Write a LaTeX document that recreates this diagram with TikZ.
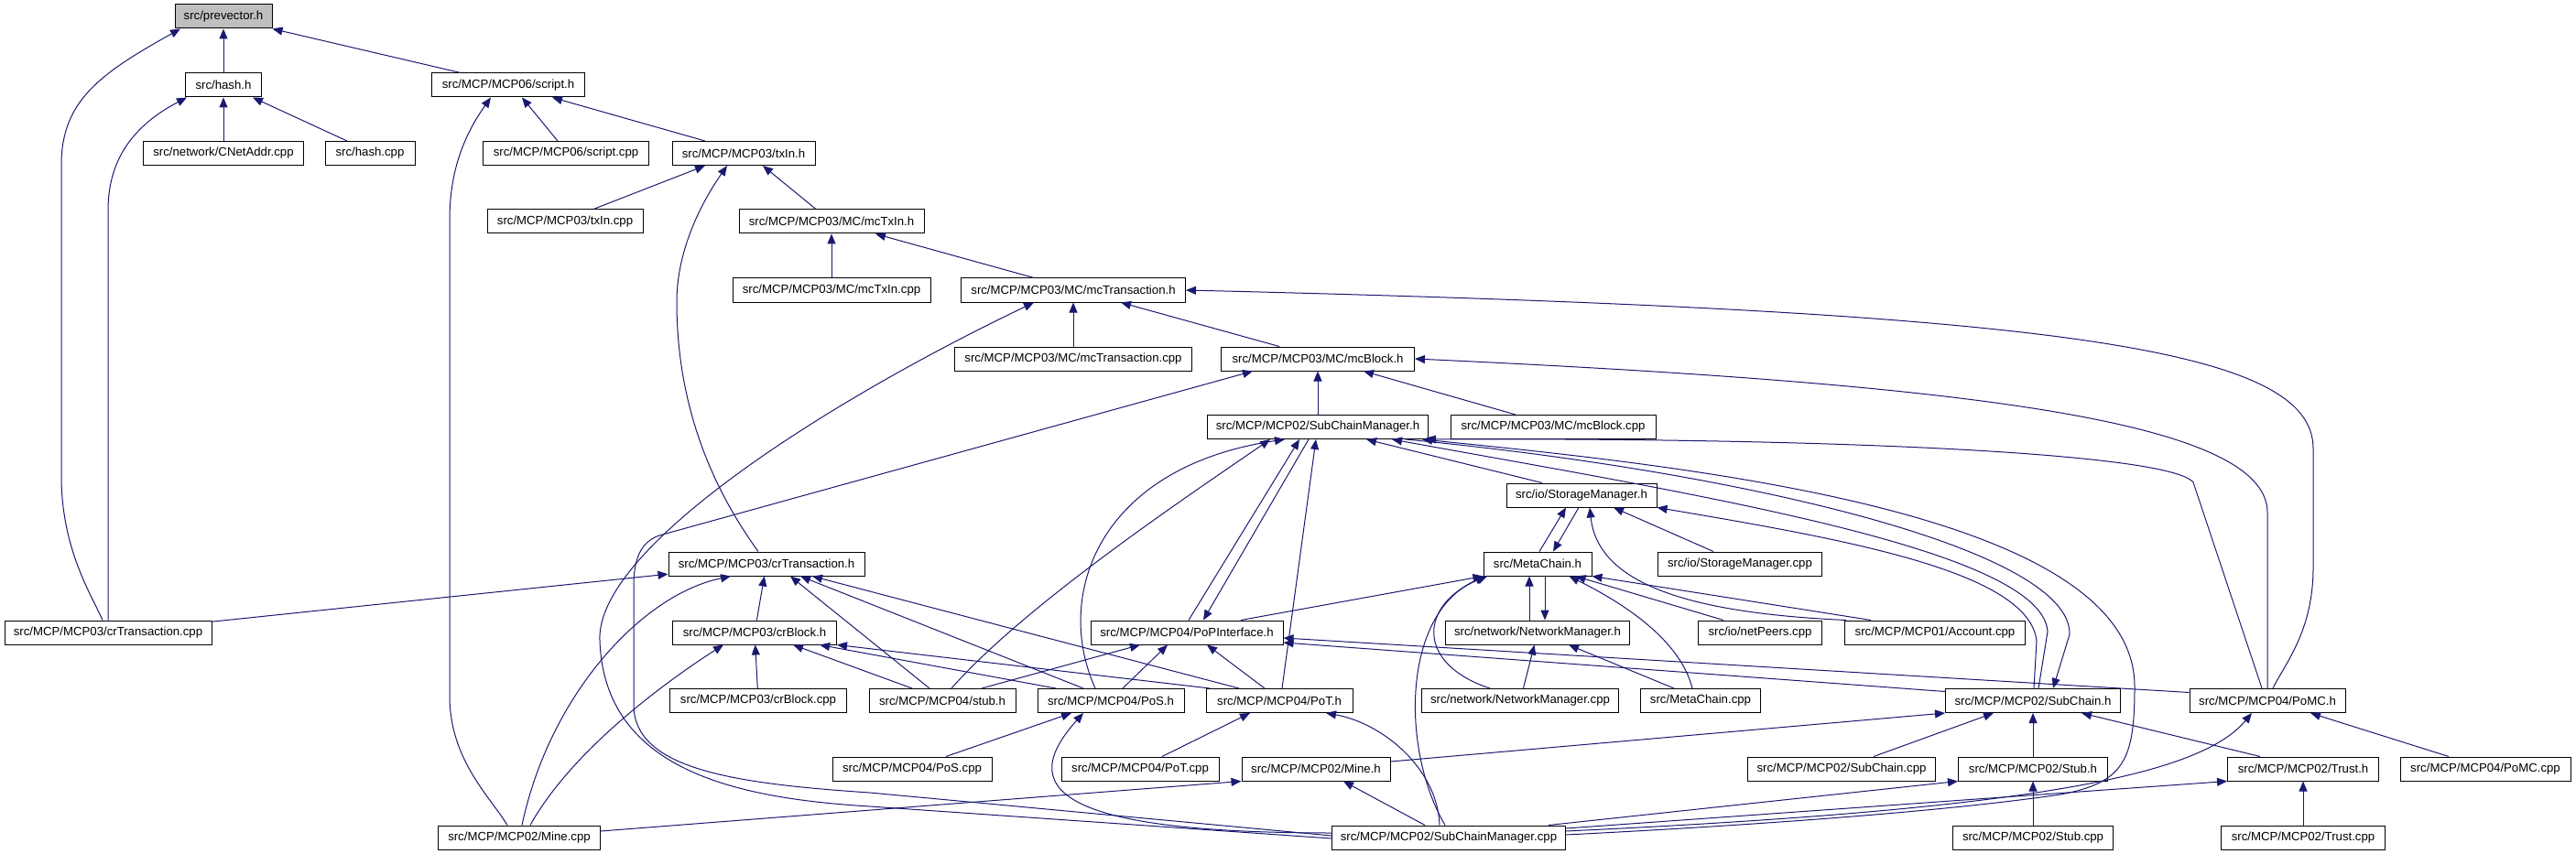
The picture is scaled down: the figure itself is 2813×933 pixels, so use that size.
\documentclass[tikz,border=0pt]{standalone}
\usepackage{fontspec}
\setmainfont{Liberation Sans}
\usepackage{xcolor}
\usepackage{tikz}
\usetikzlibrary{positioning}
\usetikzlibrary{arrows.meta}
\definecolor{edgeblue}{HTML}{191970}
\definecolor{rootgray}{HTML}{BFBFBF}

\begin{document}
\begin{tikzpicture}[x=1pt, y=-1pt,
Fnode/.style={rectangle, draw=black, fill=white, line width=1pt, minimum height=26pt, inner xsep=4pt, inner ysep=0pt, font=\fontsize{13.2}{15}\selectfont},
F0node/.style={Fnode, fill=rootgray},
dep/.style={draw=edgeblue, line width=1pt, {Triangle[length=11pt, width=9pt]}-}
]
\useasboundingbox (0,0) rectangle (2813,933);
%Nodes
\node[F0node, minimum width=106] (PV) at (244,18) {src/prevector.h};
\node[Fnode, minimum width=83] (HH) at (244,93) {src/hash.h};
\node[Fnode, minimum width=167] (SCH) at (555,93) {src/MCP/MCP06/script.h};
\node[Fnode, minimum width=175] (CNA) at (244,167.5) {src/network/CNetAddr.cpp};
\node[Fnode, minimum width=98] (HCPP) at (404,167.5) {src/hash.cpp};
\node[Fnode, minimum width=181] (SCC) at (618,167.5) {src/MCP/MCP06/script.cpp};
\node[Fnode, minimum width=156] (TXH) at (812,167.5) {src/MCP/MCP03/txIn.h};
\node[Fnode, minimum width=170] (TXC) at (617,242) {src/MCP/MCP03/txIn.cpp};
\node[Fnode, minimum width=202] (MTXH) at (908,242) {src/MCP/MCP03/MC/mcTxIn.h};
\node[Fnode, minimum width=216] (MTXC) at (908,317) {src/MCP/MCP03/MC/mcTxIn.cpp};
\node[Fnode, minimum width=245] (MTRH) at (1172,317) {src/MCP/MCP03/MC/mcTransaction.h};
\node[Fnode, minimum width=259] (MTRC) at (1172,392) {src/MCP/MCP03/MC/mcTransaction.cpp};
\node[Fnode, minimum width=211] (MBH) at (1439,392) {src/MCP/MCP03/MC/mcBlock.h};
\node[Fnode, minimum width=241] (SCMH) at (1439,466.5) {src/MCP/MCP02/SubChainManager.h};
\node[Fnode, minimum width=224] (MBC) at (1696,466.5) {src/MCP/MCP03/MC/mcBlock.cpp};
\node[Fnode, minimum width=164] (STMH) at (1727,541) {src/io/StorageManager.h};
\node[Fnode, minimum width=214] (CRTH) at (837,616) {src/MCP/MCP03/crTransaction.h};
\node[Fnode, minimum width=118] (MCH) at (1679,616) {src/MetaChain.h};
\node[Fnode, minimum width=179] (STMC) at (1900,616) {src/io/StorageManager.cpp};
\node[Fnode, minimum width=226] (CRTC) at (118,691) {src/MCP/MCP03/crTransaction.cpp};
\node[Fnode, minimum width=179] (CRBH) at (824,691) {src/MCP/MCP03/crBlock.h};
\node[Fnode, minimum width=210] (POPI) at (1296,691) {src/MCP/MCP04/PoPInterface.h};
\node[Fnode, minimum width=201] (NMH) at (1679,691) {src/network/NetworkManager.h};
\node[Fnode, minimum width=135] (NPC) at (1922,691) {src/io/netPeers.cpp};
\node[Fnode, minimum width=197] (ACC) at (2113,691) {src/MCP/MCP01/Account.cpp};
\node[Fnode, minimum width=193] (CRBC) at (828,765.5) {src/MCP/MCP03/crBlock.cpp};
\node[Fnode, minimum width=160] (STUBH) at (1029,765.5) {src/MCP/MCP04/stub.h};
\node[Fnode, minimum width=160] (POSH) at (1213,765.5) {src/MCP/MCP04/PoS.h};
\node[Fnode, minimum width=160] (POTH) at (1397,765.5) {src/MCP/MCP04/PoT.h};
\node[Fnode, minimum width=215] (NMC) at (1660,765.5) {src/network/NetworkManager.cpp};
\node[Fnode, minimum width=131] (MCC) at (1857,765.5) {src/MetaChain.cpp};
\node[Fnode, minimum width=191] (SCHN) at (2220,765.5) {src/MCP/MCP02/SubChain.h};
\node[Fnode, minimum width=170] (POMCH) at (2476,765.5) {src/MCP/MCP04/PoMC.h};
\node[Fnode, minimum width=174] (POSC) at (996,840) {src/MCP/MCP04/PoS.cpp};
\node[Fnode, minimum width=172] (POTC) at (1245,840) {src/MCP/MCP04/PoT.cpp};
\node[Fnode, minimum width=162] (MINEH) at (1437,840) {src/MCP/MCP02/Mine.h};
\node[Fnode, minimum width=205] (SCHC) at (2011,840) {src/MCP/MCP02/SubChain.cpp};
\node[Fnode, minimum width=163] (STBH) at (2220,840) {src/MCP/MCP02/Stub.h};
\node[Fnode, minimum width=165] (TRH) at (2515,840) {src/MCP/MCP02/Trust.h};
\node[Fnode, minimum width=186] (POMCC) at (2714,840) {src/MCP/MCP04/PoMC.cpp};
\node[Fnode, minimum width=177] (MINEC) at (567,915) {src/MCP/MCP02/Mine.cpp};
\node[Fnode, minimum width=255] (SCMC) at (1582,915) {src/MCP/MCP02/SubChainManager.cpp};
\node[Fnode, minimum width=175] (STBC) at (2220,915) {src/MCP/MCP02/Stub.cpp};
\node[Fnode, minimum width=179] (TRC) at (2515,915) {src/MCP/MCP02/Trust.cpp};

%Lines
\draw[dep] (PV) -- (HH);
\draw[dep] (PV.south east) -- ([xshift=-52pt]SCH.north);
\draw[dep] ([xshift=-47pt]PV.south) .. controls (110,80) and (67,110) .. (67,180) -- (67,520) .. controls (67,600) and (100,650) .. ([xshift=-6pt]CRTC.north);
\draw[dep] (HH) -- (CNA);
\draw[dep] ([xshift=32pt]HH.south) -- ([xshift=-25pt]HCPP.north);
\draw[dep] ([xshift=-40pt]HH.south) .. controls (140,140) and (118,180) .. (118,230) -- (CRTC.north);
\draw[dep] ([xshift=15pt]SCH.south) -- ([xshift=-9pt]SCC.north);
\draw[dep] ([xshift=48pt]SCH.south) -- ([xshift=-42pt]TXH.north);
\draw[dep] ([xshift=-19pt]SCH.south) .. controls (505,150) and (491,190) .. (491,240) -- (491,760) .. controls (491,830) and (535,870) .. ([xshift=-13pt]MINEC.north);
\draw[dep] ([xshift=-42pt]TXH.south) -- ([xshift=31pt]TXC.north);
\draw[dep] ([xshift=21pt]TXH.south) -- ([xshift=-17pt]MTXH.north);
\draw[dep] ([xshift=-18pt]TXH.south) .. controls (760,230) and (739,280) .. (739,330) .. controls (739,460) and (790,550) .. ([xshift=-9pt]CRTH.north);
\draw[dep] (MTXH) -- (MTXC);
\draw[dep] ([xshift=48pt]MTXH.south) -- ([xshift=-43pt]MTRH.north);
\draw[dep] (MTRH) -- (MTRC);
\draw[dep] ([xshift=52pt]MTRH.south) -- ([xshift=-42pt]MBH.north);
\draw[dep] ([xshift=-43pt]MTRH.south) .. controls (900,440) and (650,600) .. (655,700) .. controls (660,840) and (800,872) .. (950,881) -- ([yshift=-1pt]SCMC.west);
\draw[dep] (MTRH.east) .. controls (2250,340) and (2526,380) .. (2526,490) -- (2526,620) .. controls (2526,690) and (2495,725) .. ([xshift=6pt]POMCH.north);
\draw[dep] (MBH) -- (SCMH);
\draw[dep] ([xshift=50pt]MBH.south) -- ([xshift=-41pt]MBC.north);
\draw[dep] ([xshift=-71pt]MBH.south) -- (720,585) .. controls (700,592) and (692,610) .. (692,640) -- (692,770) .. controls (692,840) and (800,856) .. (950,866) -- ([yshift=2pt]SCMC.west);
\draw[dep] (MBH.east) .. controls (2150,420) and (2476,460) .. (2476,560) -- (POMCH.north);
\draw[dep] ([xshift=53pt]SCMH.south) -- ([xshift=-43pt]STMH.north);
\draw[dep] ([xshift=-52pt]SCMH.south) .. controls (1300,540) and (1120,660) .. ([xshift=10pt]STUBH.north);
\draw[dep] ([xshift=-36pt]SCMH.south) .. controls (1200,510) and (1150,650) .. ([xshift=-17pt]POSH.north);
\draw[dep] ([xshift=-20pt]SCMH.south) -- ([xshift=2pt]POPI.north);
\draw[dep] ([xshift=18pt]POPI.north) -- ([xshift=-10pt]SCMH.south);
\draw[dep] ([xshift=-2pt]SCMH.south) -- ([xshift=3pt]POTH.north);
\draw[dep] ([xshift=-3pt]SCMH.south east) .. controls (2000,478) and (2370,495) .. (2395,527) -- ([xshift=-6pt]POMCH.north);
\draw[dep] ([xshift=-7pt]SCMH.south east) .. controls (1850,510) and (2331,560) .. (2331,750) .. controls (2331,830) and (2320,855) .. (2250,868) .. controls (2100,890) and (1850,905) .. ([yshift=3pt]SCMC.east);
\draw[dep] ([xshift=-40pt]SCMH.south east) .. controls (1850,540) and (2230,600) .. (2236,690) -- ([xshift=6pt]SCHN.north);
\draw[dep] ([xshift=22pt]SCHN.north) -- (2260,693) .. controls (2262,600) and (1900,515) .. ([xshift=-25pt]SCMH.south east);
\draw[dep] (STMH.south east) .. controls (2020,590) and (2215,625) .. (2224,700) -- ([xshift=1pt]SCHN.north);
\draw[dep] ([xshift=-17pt]STMH.south) -- ([xshift=2pt]MCH.north);
\draw[dep] ([xshift=17pt]MCH.north) -- ([xshift=-3pt]STMH.south);
\draw[dep] ([xshift=35pt]STMH.south) -- ([xshift=-29pt]STMC.north);
\draw[dep] ([xshift=9pt]STMH.south) .. controls (1745,640) and (1850,670) .. ([xshift=-97pt]ACC.north);
\draw[dep] (MCH.south east) -- ([xshift=-70pt]ACC.north);
\draw[dep] ([xshift=-18pt]MCH.south east) -- ([xshift=-40pt]NPC.north);
\draw[dep] ([xshift=-25pt]MCH.south east) .. controls (1775,660) and (1835,700) .. ([xshift=-9pt]MCC.north);
\draw[dep] ([xshift=-9pt]MCH.south) -- ([xshift=-9pt]NMH.north);
\draw[dep] ([xshift=8pt]NMH.north) -- ([xshift=8pt]MCH.south);
\draw[dep] ([xshift=-55pt]MCH.south) .. controls (1550,660) and (1545,725) .. ([xshift=-33pt]NMC.north);
\draw[dep] ([xshift=-57pt]MCH.south) .. controls (1530,670) and (1530,820) .. ([xshift=-4pt]SCMC.north);
\draw[dep] (MCH.south west) -- ([xshift=59pt]POPI.north);
\draw[dep] (NMH) -- (NMC);
\draw[dep] ([xshift=34pt]NMH.south) -- ([xshift=-29pt]MCC.north);
\draw[dep] ([xshift=-51pt]POPI.south) -- ([xshift=43pt]STUBH.north);
\draw[dep] ([xshift=-21pt]POPI.south) -- ([xshift=13pt]POSH.north);
\draw[dep] ([xshift=22pt]POPI.south) -- ([xshift=-16pt]POTH.north);
\draw[dep] ([yshift=-11pt]POPI.east) -- ([yshift=10pt]SCHN.west);
\draw[dep] ([yshift=-6pt]POPI.east) -- ([yshift=9pt]POMCH.west);
\draw[dep] (CRTH) -- (CRTC);
\draw[dep] (CRTH) -- (CRBH);
\draw[dep] ([xshift=26pt]CRTH.south) -- ([xshift=-14pt]STUBH.north);
\draw[dep] ([xshift=37pt]CRTH.south) -- ([xshift=-30pt]POSH.north);
\draw[dep] ([xshift=50pt]CRTH.south) -- ([xshift=-44pt]POTH.north);
\draw[dep] ([xshift=-39pt]CRTH.south) .. controls (700,650) and (600,760) .. ([xshift=3pt]MINEC.north);
\draw[dep] (CRBH) -- (CRBC);
\draw[dep] ([xshift=42pt]CRBH.south) -- ([xshift=-33pt]STUBH.north);
\draw[dep] ([xshift=71pt]CRBH.south) -- ([xshift=-60pt]POSH.north);
\draw[dep] (CRBH.south east) -- ([xshift=-76pt]POTH.north);
\draw[dep] ([xshift=-34pt]CRBH.south) .. controls (750,730) and (630,810) .. ([xshift=12pt]MINEC.north);
\draw[dep] ([xshift=-43pt]POSH.south) -- ([xshift=37pt]POSC.north);
\draw[dep] ([xshift=-30pt]POSH.south) .. controls (1110,860) and (1150,910) .. ([yshift=5pt]SCMC.west);
\draw[dep] ([xshift=-32pt]POTH.south) -- ([xshift=24pt]POTC.north);
\draw[dep] ([xshift=51pt]POTH.south) .. controls (1510,790) and (1570,840) .. ([xshift=-10pt]SCMC.north);
\draw[dep] (MINEH.south west) -- ([yshift=7pt]MINEC.east);
\draw[dep] ([xshift=30pt]MINEH.south) -- ([xshift=-26pt]SCMC.north);
\draw[dep] (SCHN.south west) -- ([yshift=8pt]MINEH.east);
\draw[dep] ([xshift=-43pt]SCHN.south) -- ([xshift=35pt]SCHC.north);
\draw[dep] (SCHN) -- (STBH);
\draw[dep] ([xshift=53pt]SCHN.south) -- ([xshift=-47pt]TRH.north);
\draw[dep] (STBH) -- (STBC);
\draw[dep] (TRH) -- (TRC);
\draw[dep] ([xshift=47pt]POMCH.south) -- ([xshift=-40pt]POMCC.north);
\draw[dep] ([xshift=-17pt]POMCH.south) .. controls (2400,850) and (2200,885) .. ([yshift=7pt]SCMC.east);
\draw[dep] (STBH.south west) -- ([xshift=-19pt]SCMC.north east);
\draw[dep] (TRH.south west) -- ([yshift=10pt]SCMC.east);
\end{tikzpicture}
\end{document}
